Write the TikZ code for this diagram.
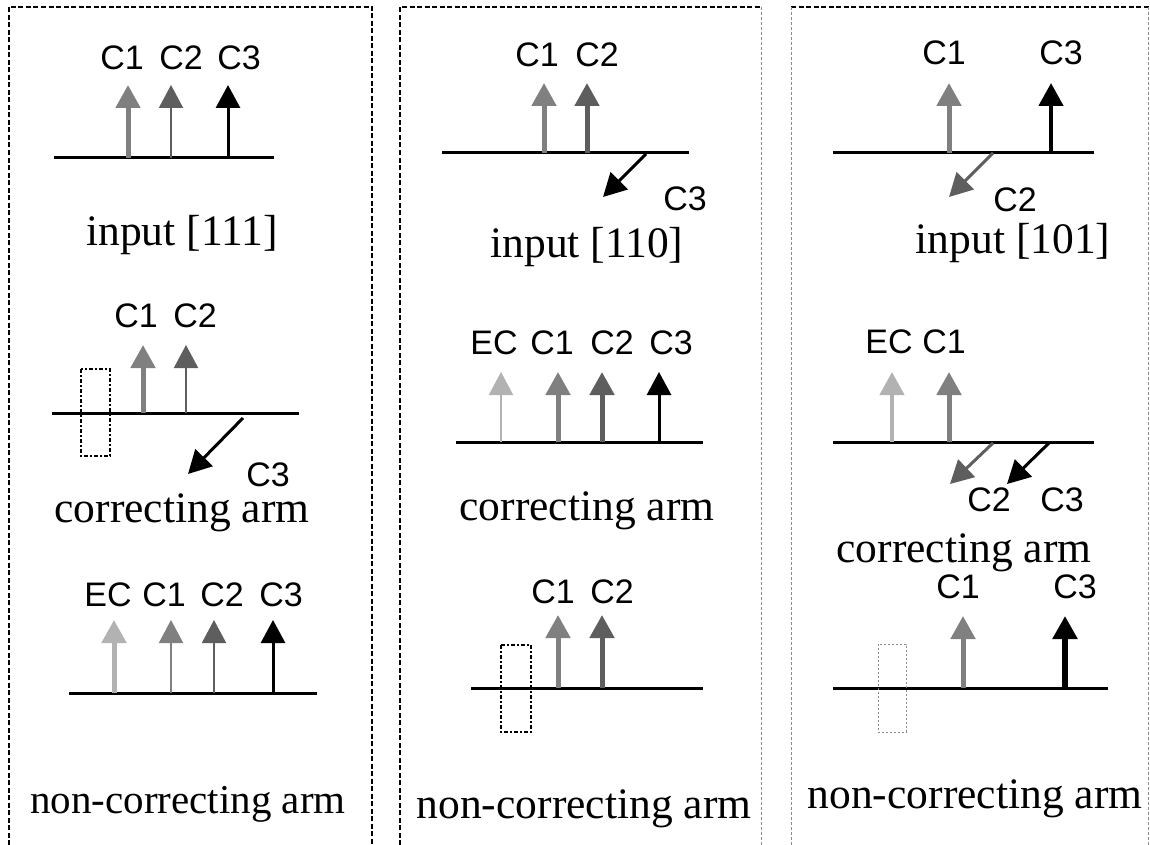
\documentclass[tikz,border=0pt]{standalone}
\usepackage{fontspec}
\setmainfont{Liberation Serif}
\newfontfamily\lblfont{Liberation Sans}
\usetikzlibrary{arrows.meta}
\definecolor{cmid}{gray}{0.5}
\definecolor{cdark}{gray}{0.37}
\definecolor{clight}{gray}{0.7}
\definecolor{cborder}{gray}{0.55}
\begin{document}
\begin{tikzpicture}[x=1pt,y=-1pt,
  axisline/.style={line width=3pt,black},
  vec/.style={-{Triangle[width=24pt,length=23pt]}},
  thickv/.style={vec,line width=5pt},
  thinv/.style={vec,line width=2pt},
  medv/.style={vec,line width=3pt},
  heavyv/.style={vec,line width=4.5pt},
  lbl/.style={font=\lblfont\fontsize{34}{36}\selectfont,inner sep=0pt},
  capt/.style={font=\fontsize{43.5}{46}\selectfont,inner sep=0pt,anchor=base},
  boxdash/.style={line width=2.2pt,dash pattern=on 4pt off 2pt on 2pt off 2pt},
  boxthin/.style={line width=1pt,cborder,dash pattern=on 2pt off 2pt},
  borderthick/.style={line width=2.5pt,dash pattern=on 5pt off 2.5pt},
  borderthin/.style={line width=1pt,cborder,dash pattern=on 3pt off 2pt}]
\useasboundingbox (0,0) rectangle (1150,845);
\fill[white] (0,0) rectangle (1150,845);

% ---------- panel borders ----------
\draw[borderthick] (9,845) -- (9,7) -- (372,7) -- (372,845);
\draw[borderthick] (400,845) -- (400,7) -- (761,7);
\draw[borderthin] (761,7) -- (761,845);
\draw[borderthick,line width=2pt] (791,7) -- (1150,7);
\draw[borderthin] (791,7) -- (791,845);
\draw[borderthin] (1148,7) -- (1148,845);

% ================= PANEL 1 =================
% input [111]
\coordinate (p1aL) at (54,158); \coordinate (p1aR) at (274,158);
\draw[axisline] (p1aL) -- (p1aR);
\coordinate (p1a1) at (128,158); \coordinate (p1a1t) at (128,85);
\coordinate (p1a2) at (171,158); \coordinate (p1a2t) at (171,85);
\coordinate (p1a3) at (228,158); \coordinate (p1a3t) at (228,85);
\draw[thickv,cmid] (p1a1) -- (p1a1t);
\draw[thinv,cdark] (p1a2) -- (p1a2t);
\draw[medv,black] (p1a3) -- (p1a3t);
\node[lbl] (p1aC1) at (122,58) {C1};
\node[lbl] (p1aC2) at (181,58) {C2};
\node[lbl] (p1aC3) at (239,58) {C3};
\node[capt] (p1acap) at (182,245) {input [111]};

% correcting arm
\coordinate (p1bL) at (52,413); \coordinate (p1bR) at (299,413);
\draw[axisline] (p1bL) -- (p1bR);
\draw[boxdash] (81,369) rectangle (110,456);
\coordinate (p1b1) at (143,413); \coordinate (p1b1t) at (143,345);
\coordinate (p1b2) at (186,413); \coordinate (p1b2t) at (186,345);
\draw[thickv,cmid] (p1b1) -- (p1b1t);
\draw[thinv,cdark] (p1b2) -- (p1b2t);
\coordinate (p1b3) at (243,418); \coordinate (p1b3t) at (188,474);
\draw[medv,black] (p1b3) -- (p1b3t);
\node[lbl] (p1bC1) at (136,316) {C1};
\node[lbl] (p1bC2) at (195,316) {C2};
\node[lbl] (p1bC3) at (268,475) {C3};
\node[capt] (p1bcap) at (182,522) {correcting arm};

% non-correcting arm
\coordinate (p1cL) at (69,693); \coordinate (p1cR) at (317,693);
\draw[axisline] (p1cL) -- (p1cR);
\coordinate (p1c0) at (114,693); \coordinate (p1c0t) at (114,620);
\coordinate (p1c1) at (171,693); \coordinate (p1c1t) at (171,620);
\coordinate (p1c2) at (214,693); \coordinate (p1c2t) at (214,620);
\coordinate (p1c3) at (273,693); \coordinate (p1c3t) at (273,620);
\draw[thickv,clight] (p1c0) -- (p1c0t);
\draw[thinv,cmid] (p1c1) -- (p1c1t);
\draw[thinv,cdark] (p1c2) -- (p1c2t);
\draw[medv,black] (p1c3) -- (p1c3t);
\node[lbl] (p1cEC) at (108,595) {EC};
\node[lbl] (p1cC1) at (164,595) {C1};
\node[lbl] (p1cC2) at (222,595) {C2};
\node[lbl] (p1cC3) at (281,595) {C3};
\node[capt,font=\fontsize{41}{44}\selectfont] (p1ccap) at (188,813) {non-correcting arm};

% ================= PANEL 2 =================
% input [110]
\coordinate (p2aL) at (442,153); \coordinate (p2aR) at (689,153);
\draw[axisline] (p2aL) -- (p2aR);
\coordinate (p2a1) at (544,153); \coordinate (p2a1t) at (544,83);
\coordinate (p2a2) at (587,153); \coordinate (p2a2t) at (587,83);
\draw[thickv,cmid] (p2a1) -- (p2a1t);
\draw[thickv,cdark] (p2a2) -- (p2a2t);
\coordinate (p2a3) at (646,154); \coordinate (p2a3t) at (603,197);
\draw[medv,black] (p2a3) -- (p2a3t);
\node[lbl] (p2aC1) at (537,55) {C1};
\node[lbl] (p2aC2) at (597,55) {C2};
\node[lbl] (p2aC3) at (685,199) {C3};
\node[capt] (p2acap) at (587,257) {input [110]};

% correcting arm
\coordinate (p2bL) at (456,442); \coordinate (p2bR) at (703,442);
\draw[axisline] (p2bL) -- (p2bR);
\coordinate (p2b0) at (501,442); \coordinate (p2b0t) at (501,372);
\coordinate (p2b1) at (558,442); \coordinate (p2b1t) at (558,372);
\coordinate (p2b2) at (602,442); \coordinate (p2b2t) at (602,372);
\coordinate (p2b3) at (659,442); \coordinate (p2b3t) at (659,372);
\draw[thinv,clight] (p2b0) -- (p2b0t);
\draw[thickv,cmid] (p2b1) -- (p2b1t);
\draw[thickv,cdark] (p2b2) -- (p2b2t);
\draw[medv,black] (p2b3) -- (p2b3t);
\node[lbl] (p2bEC) at (494,343) {EC};
\node[lbl] (p2bC1) at (552,343) {C1};
\node[lbl] (p2bC2) at (612,343) {C2};
\node[lbl] (p2bC3) at (671,343) {C3};
\node[capt] (p2bcap) at (587,520) {correcting arm};

% non-correcting arm
\coordinate (p2cL) at (471,688); \coordinate (p2cR) at (703,688);
\draw[axisline] (p2cL) -- (p2cR);
\draw[boxdash] (501,645) rectangle (531,732);
\coordinate (p2c1) at (558,688); \coordinate (p2c1t) at (558,615);
\coordinate (p2c2) at (602,688); \coordinate (p2c2t) at (602,615);
\draw[thickv,cmid] (p2c1) -- (p2c1t);
\draw[thickv,cdark] (p2c2) -- (p2c2t);
\node[lbl] (p2cC1) at (553,592) {C1};
\node[lbl] (p2cC2) at (612,592) {C2};
\node[capt] (p2ccap) at (584,818) {non-correcting arm};

% ================= PANEL 3 =================
% input [101]
\coordinate (p3aL) at (833,153); \coordinate (p3aR) at (1094,153);
\draw[axisline] (p3aL) -- (p3aR);
\coordinate (p3a1) at (949,153); \coordinate (p3a1t) at (949,83);
\coordinate (p3a3) at (1051,153); \coordinate (p3a3t) at (1051,83);
\draw[thickv,cmid] (p3a1) -- (p3a1t);
\draw[heavyv,black] (p3a3) -- (p3a3t);
\coordinate (p3a2) at (993,153); \coordinate (p3a2t) at (949,197);
\draw[medv,cdark] (p3a2) -- (p3a2t);
\node[lbl] (p3aC1) at (944,53) {C1};
\node[lbl] (p3aC3) at (1061,53) {C3};
\node[lbl] (p3aC2) at (1015,200) {C2};
\node[capt] (p3acap) at (1013,253) {input [101]};

% correcting arm
\coordinate (p3bL) at (833,442); \coordinate (p3bR) at (1094,442);
\draw[axisline] (p3bL) -- (p3bR);
\coordinate (p3b0) at (892,442); \coordinate (p3b0t) at (892,372);
\coordinate (p3b1) at (949,442); \coordinate (p3b1t) at (949,372);
\draw[heavyv,clight] (p3b0) -- (p3b0t);
\draw[thickv,cmid] (p3b1) -- (p3b1t);
\coordinate (p3b2) at (993,443); \coordinate (p3b2t) at (950,484);
\coordinate (p3b3) at (1049,443); \coordinate (p3b3t) at (1007,484);
\draw[medv,cdark] (p3b2) -- (p3b2t);
\draw[medv,black] (p3b3) -- (p3b3t);
\node[lbl] (p3bEC) at (889,342) {EC};
\node[lbl] (p3bC1) at (944,342) {C1};
\node[lbl] (p3bC2) at (989,500) {C2};
\node[lbl] (p3bC3) at (1062,500) {C3};
\node[capt] (p3bcap) at (964,562) {correcting arm};

% non-correcting arm
\coordinate (p3cL) at (833,688); \coordinate (p3cR) at (1108,688);
\draw[axisline] (p3cL) -- (p3cR);
\draw[boxthin] (878,644) rectangle (906,732);
\coordinate (p3c1) at (963,688); \coordinate (p3c1t) at (963,616);
\coordinate (p3c3) at (1065,688); \coordinate (p3c3t) at (1065,616);
\draw[thickv,cmid] (p3c1) -- (p3c1t);
\draw[vec,line width=5.5pt,black] (p3c3) -- (p3c3t);
\node[lbl] (p3cC1) at (958,587) {C1};
\node[lbl] (p3cC3) at (1075,587) {C3};
\node[capt] (p3ccap) at (975,808) {non-correcting arm};
\end{tikzpicture}
\end{document}
